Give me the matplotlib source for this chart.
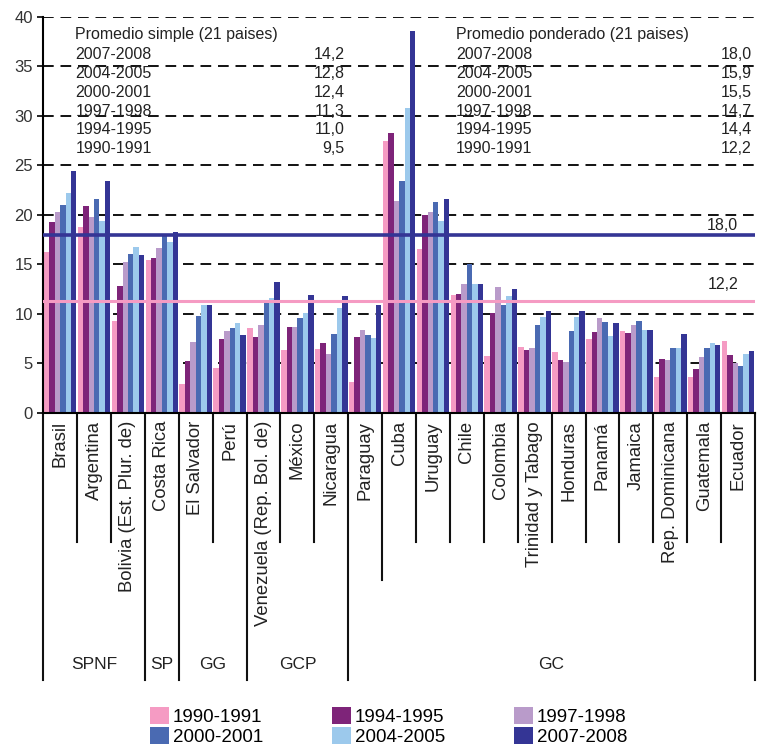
import matplotlib
matplotlib.use("Agg")
import matplotlib.pyplot as plt
from matplotlib.patches import Patch
import numpy as np

plt.rcParams['font.family'] = ['Liberation Sans', 'DejaVu Sans']

countries = ['Brasil', 'Argentina', 'Bolivia (Est. Plur. de)', 'Costa Rica',
             'El Salvador', 'Perú', 'Venezuela (Rep. Bol. de)', 'México',
             'Nicaragua', 'Paraguay', 'Cuba', 'Uruguay', 'Chile', 'Colombia',
             'Trinidad y Tabago', 'Honduras', 'Panamá', 'Jamaica',
             'Rep. Dominicana', 'Guatemala', 'Ecuador']
periods = ['1990-1991', '1994-1995', '1997-1998', '2000-2001', '2004-2005', '2007-2008']
colors = ['#F59BC3', '#7E2479', '#B99BCA', '#4A6AB2', '#9CC9EC', '#343595']

v1990 = [16.3, 18.8, 9.3, 15.5, 2.9, 4.5, 8.6, 6.4, 6.5, 3.1, 27.5, 16.6, 11.9, 5.8, 6.7, 6.2, 7.5, 8.3, 3.6, 3.6, 7.3]
v1994 = [19.3, 20.9, 12.8, 15.7, 5.3, 7.5, 7.7, 8.7, 7.1, 7.7, 28.3, 20.0, 12.0, 10.1, 6.4, 5.4, 8.2, 8.1, 5.5, 4.4, 5.9]
v1997 = [20.3, 19.8, 15.3, 16.7, 7.2, 8.3, 8.9, 8.7, 6.0, 8.4, 21.4, 20.3, 13.0, 12.7, 6.6, 5.2, 9.6, 8.9, 5.4, 5.7, 5.0]
v2000 = [21.0, 21.6, 16.1, 17.9, 9.8, 8.6, 11.1, 9.6, 8.0, 7.9, 23.4, 21.3, 15.0, 10.9, 8.9, 8.3, 9.2, 9.3, 6.6, 6.6, 4.7]
v2004 = [22.2, 19.4, 16.8, 17.3, 10.9, 9.1, 11.6, 10.1, 10.6, 7.6, 30.8, 19.4, 13.0, 11.8, 9.7, 9.7, 7.8, 8.4, 6.6, 7.1, 6.0]
v2007 = [24.4, 23.4, 16.0, 18.3, 10.9, 7.9, 13.2, 11.9, 11.8, 10.9, 38.6, 21.6, 13.0, 12.5, 10.3, 10.3, 9.1, 8.4, 8.0, 6.9, 6.3]
series = [v1990, v1994, v1997, v2000, v2004, v2007]

groups = ['SPNF', 'SP', 'GG', 'GCP', 'GC']
group_sizes = [3, 1, 2, 3, 12]

simple_vals = ['14,2', '12,8', '12,4', '11,3', '11,0', '9,5']
weighted_vals = ['18,0', '15,9', '15,5', '14,7', '14,4', '12,2']
row_periods = ['2007-2008', '2004-2005', '2000-2001', '1997-1998', '1994-1995', '1990-1991']

line_weighted = 18.0
line_simple = 11.3

fig = plt.figure(figsize=(7.58, 7.55), dpi=100)
ax = fig.add_axes([0.057, 0.453, 0.939, 0.5245])

x = np.arange(len(countries))
w = 0.96 / 6
for k, (vals, c) in enumerate(zip(series, colors)):
    ax.bar(x + (k - 2.5) * w, vals, width=w, color=c, edgecolor='none', zorder=2)

for yv in range(5, 45, 5):
    ax.axhline(yv, color='#111111', lw=1.4, ls=(0, (5.5, 3.5)), zorder=1)

ax.axhline(line_weighted, color='#343595', lw=2.6, zorder=3)
ax.axhline(line_simple, color='#F59BC3', lw=2.2, zorder=3)
ax.text(19.55, line_weighted + 0.15, '18,0', ha='center', va='bottom', fontsize=11.5, color='#222222')
ax.text(19.55, line_simple + 0.9, '12,2', ha='center', va='bottom', fontsize=11.5, color='#222222')

ax.set_xlim(-0.5, len(countries) - 0.5)
ax.set_ylim(0, 40)
ax.set_yticks(range(0, 45, 5))
ax.tick_params(axis='y', labelsize=12, length=4, width=1.2, labelcolor='#333333')
ax.set_xticks([])
for s in ['top', 'right']:
    ax.spines[s].set_visible(False)
ax.spines['left'].set_linewidth(1.5)
ax.spines['bottom'].set_linewidth(1.5)

# text blocks
ax.text(0.45, 38.2, 'Promedio simple (21 paises)', fontsize=11.5, va='center', color='#222222')
ax.text(11.68, 38.2, 'Promedio ponderado (21 paises)', fontsize=11.5, va='center', color='#222222')
for i, p in enumerate(row_periods):
    yy = 36.2 - i * 1.9
    ax.text(0.45, yy, p, fontsize=11.5, va='center', color='#222222')
    ax.text(8.4, yy, simple_vals[i], fontsize=11.5, va='center', ha='right', color='#222222')
    ax.text(11.68, yy, p, fontsize=11.5, va='center', color='#222222')
    ax.text(20.4, yy, weighted_vals[i], fontsize=11.5, va='center', ha='right', color='#222222')

# category labels and separators
trans = ax.get_xaxis_transform()
for i, name in enumerate(countries):
    ax.text(i, -0.02, name, rotation=90, ha='center', va='top', fontsize=13.3,
            color='#222222', transform=trans, clip_on=False)

group_edges = np.concatenate([[0], np.cumsum(group_sizes)])
short_y, mid_y, long_y = -0.326, -0.422, -0.674
for b in range(len(countries) + 1):
    if b in group_edges:
        y_end = long_y
    elif countries[b - 1] == 'Paraguay':
        y_end = mid_y
    else:
        y_end = short_y
    ax.plot([b - 0.5, b - 0.5], [0, y_end], color='#111111', lw=1.5,
            transform=trans, clip_on=False)

for g, a, b in zip(groups, group_edges[:-1], group_edges[1:]):
    ax.text((a + b - 1) / 2, -0.655, g, ha='center', va='bottom', fontsize=12.5,
            color='#222222', transform=trans, clip_on=False)

# legend filled row by row like the original
handles = [Patch(facecolor=c, edgecolor='none') for c in colors]
order = [0, 3, 1, 4, 2, 5]
fig.legend([handles[i] for i in order], [periods[i] for i in order],
           loc='upper left', bbox_to_anchor=(0.198, 0.063), ncol=3,
           frameon=False, fontsize=13.5, handlelength=1.0, handleheight=1.0,
           handletextpad=0.2, columnspacing=3.7, labelspacing=0.05,
           borderpad=0, borderaxespad=0)

fig.savefig('out.png', dpi=100)
